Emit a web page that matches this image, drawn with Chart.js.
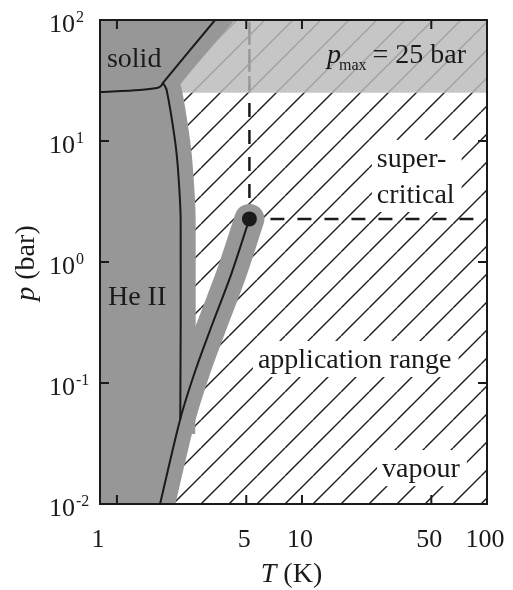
<!DOCTYPE html>
<html>
<head>
<meta charset="utf-8">
<script src="https://cdn.jsdelivr.net/npm/chart.js@4.4.1/dist/chart.umd.min.js"></script>
<style>
  html, body { margin: 0; padding: 0; background: #fff; }
</style>
</head>
<body>
<canvas id="phase" width="513" height="590"></canvas>
<script>
(function() {
    'use strict';

    // Axis ranges (T in K, p in bar)
    var xMin = 0.81, xMax = 100, yMin = 0.01, yMax = 100;

    // Tick values
    var xTicks = [1, 5, 10, 50, 100];
    var yTicks = [0.01, 0.1, 1, 10, 100];

    // Melting curve (solid | liquid)
    var meltT = [0.81, 1.33, 1.645, 1.73, 1.773, 3.39];
    var meltP = [25.4, 26.4, 27.4, 28.5, 30.2, 100];

    // Lambda line (He I | He II), from the upper corner down to the vapour line
    var lambdaT = [1.773, 1.856, 2.058, 2.145, 2.21, 2.2];
    var lambdaP = [30.2, 26.4, 10.2, 5.44, 2.22, 0.0505];

    // Vapour pressure line, up to the critical point
    var vapT = [1.71, 2.2, 2.66, 3.26, 4.13, 5.2];
    var vapP = [0.01, 0.0505, 0.128, 0.30, 0.78, 2.27];

    // Critical point and pressure limit
    var critT = 5.2, critP = 2.27;
    var pMax = 25;

    // Region labels, anchored at (T, p) = left end of first baseline
    var textLabels = [
        { lines: ['solid'], T: 0.883, p: 40.9, box: false },
        { lines: ['He II'], T: 0.894, p: 0.441, box: false },
        { lines: ['super-', 'critical'], T: 25.4, p: 6.1, box: true },
        { lines: ['application range'], T: 5.78, p: 0.133, box: true },
        { lines: ['vapour'], T: 27.1, p: 0.0167, box: true }
    ];
    var pmaxLabel = { T: 13.65, p: 44.1 };

    var SERIF = '"Liberation Serif", "Times New Roman", serif';
    var INK = '#1a1a1a';
    var GREY = '#979797';
    var BAND = 30;
    var HATCH_STEP = 28, HATCH_PHASE = 5;

    function xy(ts, ps) {
        return ts.map(function(t, i) { return { x: t, y: ps[i] }; });
    }

    function rect(x0, x1, y0, y1) {
        return [{ x: x0, y: y0 }, { x: x1, y: y0 }, { x: x1, y: y1 }, { x: x0, y: y1 }, { x: x0, y: y0 }];
    }

    /**
     * Diagonal hatch pattern
     */
    function hatchPattern(step, phase, bg, fg, width) {
        var c = document.createElement('canvas');
        c.width = step;
        c.height = step;
        var g = c.getContext('2d');
        g.fillStyle = bg;
        g.fillRect(0, 0, step, step);
        g.strokeStyle = fg;
        g.lineWidth = width;
        g.beginPath();
        for (var k = -1; k <= 1; k++) {
            g.moveTo(k * step, step);
            g.lineTo(k * step + step, 0);
        }
        g.stroke();
        var pat = g.createPattern(c, 'repeat');
        if (pat.setTransform) {
            pat.setTransform(new DOMMatrix([1, 0, 0, 1, phase, 0]));
        }
        return pat;
    }

    var lastMelt = { x: meltT[meltT.length - 1], y: meltP[meltP.length - 1] };
    var vapPts = xy(vapT, vapP);

    var heShape = [{ x: xMin, y: yMax }, lastMelt]
        .concat(xy(lambdaT, lambdaP))
        .concat([vapPts[0], { x: xMin, y: yMin }, { x: xMin, y: yMax }]);

    var base = { showLine: true, pointRadius: 0, clip: 0, tension: 0 };

    function ds(extra) {
        return Object.assign({}, base, extra);
    }

    // dashed guide: greyed where it runs through the p > pMax band
    var dashSegment = {
        borderColor: function(c) {
            return c.p0.parsed.y >= pMax ? '#999999' : INK;
        }
    };

    var datasets = [
        ds({ data: rect(xMin, xMax, yMin, yMax), fill: 'shape', borderWidth: 0,
             backgroundColor: hatchPattern(HATCH_STEP, HATCH_PHASE, '#ffffff', INK, 1.4), order: 10 }),
        ds({ data: rect(xMin, xMax, pMax, yMax), fill: 'shape', borderWidth: 0,
             backgroundColor: '#c6c6c6', order: 9 }),
        ds({ data: [{ x: critT, y: critP }, { x: critT, y: pMax }, { x: critT, y: yMax }], borderColor: INK,
             borderWidth: 2.5, borderDash: [14, 13], borderDashOffset: 6, fill: false,
             segment: dashSegment, order: 8 }),
        ds({ data: [{ x: critT, y: critP }, { x: xMax, y: critP }], borderColor: INK, borderWidth: 2.5,
             borderDash: [14, 13], borderDashOffset: 6, fill: false, order: 8 }),
        ds({ data: heShape, fill: 'shape', borderWidth: 0, backgroundColor: GREY, order: 7 }),
        ds({ data: [lastMelt].concat(xy(lambdaT, lambdaP)), fill: false, borderColor: GREY, borderWidth: BAND,
             borderCapStyle: 'square', borderJoinStyle: 'round', tension: 0.3, order: 6 }),
        ds({ data: vapPts, fill: false, borderColor: GREY, borderWidth: BAND,
             borderCapStyle: 'round', borderJoinStyle: 'round', tension: 0.3, order: 6 }),
        ds({ data: xy(meltT, meltP), fill: false, borderColor: INK, borderWidth: 2,
             borderJoinStyle: 'round', tension: 0.3, order: 5 }),
        ds({ data: xy(lambdaT, lambdaP), fill: false, borderColor: INK, borderWidth: 2,
             borderJoinStyle: 'round', tension: 0.3, order: 5 }),
        ds({ data: vapPts, fill: false, borderColor: INK, borderWidth: 2,
             borderJoinStyle: 'round', tension: 0.3, order: 5 }),
        { data: [{ x: critT, y: critP }], showLine: false, pointRadius: 7.5, pointBorderWidth: 0,
          pointBackgroundColor: INK, clip: false, order: 4 }
    ];

    /**
     * Faint hatching through the p > pMax band, right of the melting band
     */
    function drawBandHatch(chart) {
        var ctx = chart.ctx, xs = chart.scales.x, ys = chart.scales.y;
        var x1 = xs.getPixelForValue(xMax);
        var yT = ys.getPixelForValue(yMax), yB = ys.getPixelForValue(pMax);

        // right edge of the grey melting band
        var p1 = { x: xs.getPixelForValue(lastMelt.x), y: ys.getPixelForValue(lastMelt.y) };
        var p2 = { x: xs.getPixelForValue(lambdaT[0]), y: ys.getPixelForValue(lambdaP[0]) };
        var dx = p1.x - p2.x, dy = p1.y - p2.y, len = Math.hypot(dx, dy);
        var ex = p2.x + (-dy / len) * BAND / 2, ey = p2.y + (dx / len) * BAND / 2;
        function edgeX(yy) { return ex + (yy - ey) * dx / dy; }

        ctx.save();
        ctx.beginPath();
        ctx.moveTo(edgeX(yT), yT);
        ctx.lineTo(x1, yT);
        ctx.lineTo(x1, yB);
        ctx.lineTo(edgeX(yB), yB);
        ctx.closePath();
        ctx.clip();

        // dashed guide seen through the band
        var cx = xs.getPixelForValue(critT);
        ctx.strokeStyle = '#9a9a9a';
        ctx.lineWidth = 2.5;
        ctx.setLineDash([14, 13]);
        ctx.lineDashOffset = 6;
        ctx.beginPath();
        ctx.moveTo(cx, ys.getPixelForValue(critP));
        ctx.lineTo(cx, yT);
        ctx.stroke();
        ctx.setLineDash([]);

        ctx.strokeStyle = '#a2a2a2';
        ctx.lineWidth = 1.4;
        ctx.beginPath();
        var c = Math.floor((edgeX(yT) + yT - HATCH_PHASE) / HATCH_STEP) * HATCH_STEP + HATCH_PHASE - HATCH_STEP;
        for (; c <= x1 + yB + HATCH_STEP; c += HATCH_STEP) {
            ctx.moveTo(c - yB, yB);
            ctx.lineTo(c - yT, yT);
        }
        ctx.stroke();
        ctx.restore();
    }

    /**
     * Labels, frame, inward ticks and axis titles
     */
    var decorations = {
        id: 'decorations',
        afterDatasetsDraw: function(chart) {
            drawBandHatch(chart);

            var ctx = chart.ctx, xs = chart.scales.x, ys = chart.scales.y;
            ctx.save();
            ctx.textAlign = 'left';
            ctx.textBaseline = 'alphabetic';
            ctx.font = '28px ' + SERIF;

            textLabels.forEach(function(lab) {
                var px = xs.getPixelForValue(lab.T);
                var py = ys.getPixelForValue(lab.p);
                var lh = 36;
                if (lab.box) {
                    var w = Math.max.apply(null, lab.lines.map(function(s) { return ctx.measureText(s).width; }));
                    ctx.fillStyle = '#ffffff';
                    ctx.fillRect(px - 5, py - 27, w + 12, 27 + (lab.lines.length - 1) * lh + 9);
                }
                ctx.fillStyle = INK;
                lab.lines.forEach(function(s, i) {
                    ctx.fillText(s, px, py + i * lh);
                });
            });

            // p_max = 25 bar
            var lx = xs.getPixelForValue(pmaxLabel.T);
            var ly = ys.getPixelForValue(pmaxLabel.p);
            ctx.fillStyle = INK;
            ctx.font = 'italic 28px ' + SERIF;
            ctx.fillText('p', lx, ly);
            lx += ctx.measureText('p').width - 2;
            ctx.font = '16px ' + SERIF;
            ctx.fillText('max', lx, ly + 7);
            lx += ctx.measureText('max').width + 6;
            ctx.font = '28px ' + SERIF;
            ctx.fillText('= ' + pMax + ' bar', lx, ly);
            ctx.restore();
        },
        afterDraw: function(chart) {
            var ctx = chart.ctx, a = chart.chartArea, xs = chart.scales.x, ys = chart.scales.y;
            ctx.save();
            ctx.strokeStyle = INK;
            ctx.fillStyle = INK;
            ctx.lineWidth = 2;
            ctx.strokeRect(a.left, a.top, a.right - a.left, a.bottom - a.top);

            // inward ticks
            ctx.beginPath();
            xTicks.forEach(function(v) {
                if (v <= xMin || v >= xMax) return;
                var px = xs.getPixelForValue(v);
                ctx.moveTo(px, a.bottom); ctx.lineTo(px, a.bottom - 9);
                ctx.moveTo(px, a.top); ctx.lineTo(px, a.top + 9);
            });
            yTicks.forEach(function(v) {
                if (v <= yMin || v >= yMax) return;
                var py = ys.getPixelForValue(v);
                ctx.moveTo(a.left, py); ctx.lineTo(a.left + 9, py);
                ctx.moveTo(a.right, py); ctx.lineTo(a.right - 9, py);
            });
            ctx.stroke();

            // x tick labels
            ctx.textBaseline = 'alphabetic';
            ctx.textAlign = 'center';
            ctx.font = '26px ' + SERIF;
            xTicks.forEach(function(v, i) {
                var px = i === 0 ? a.left : xs.getPixelForValue(v);
                ctx.fillText(String(v), px - 2, a.bottom + 43);
            });

            // y tick labels as 10^n
            ctx.textAlign = 'left';
            yTicks.forEach(function(v) {
                var py = ys.getPixelForValue(v);
                var e = Math.round(Math.log10(v));
                ctx.font = '26px ' + SERIF;
                ctx.fillText('10', a.left - 51, py + 12);
                var w = ctx.measureText('10').width;
                ctx.font = '16px ' + SERIF;
                ctx.fillText(String(e), a.left - 51 + w + 1, py + 2);
            });

            // x title: T (K)
            ctx.font = 'italic 28px ' + SERIF;
            var wT = ctx.measureText('T').width;
            ctx.font = '28px ' + SERIF;
            var wK = ctx.measureText(' (K)').width;
            var sx = (a.left + a.right) / 2 - (wT + wK) / 2 - 2;
            ctx.font = 'italic 28px ' + SERIF;
            ctx.fillText('T', sx, a.bottom + 78);
            ctx.font = '28px ' + SERIF;
            ctx.fillText(' (K)', sx + wT, a.bottom + 78);

            // y title: p (bar)
            ctx.translate(a.left - 66, (a.top + a.bottom) / 2 + 1);
            ctx.rotate(-Math.PI / 2);
            ctx.font = 'italic 28px ' + SERIF;
            var wp = ctx.measureText('p').width;
            ctx.font = '28px ' + SERIF;
            var wb = ctx.measureText(' (bar)').width;
            var sy = -(wp + wb) / 2;
            ctx.font = 'italic 28px ' + SERIF;
            ctx.fillText('p', sy, 0);
            ctx.font = '28px ' + SERIF;
            ctx.fillText(' (bar)', sy + wp, 0);
            ctx.restore();
        }
    };

    new Chart(document.getElementById('phase'), {
        type: 'scatter',
        data: { datasets: datasets },
        options: {
            responsive: false,
            animation: false,
            events: [],
            layout: { padding: { left: 100, top: 20, right: 26, bottom: 86 } },
            plugins: {
                legend: { display: false },
                tooltip: { enabled: false }
            },
            scales: {
                x: { type: 'logarithmic', min: xMin, max: xMax, display: false, bounds: 'data' },
                y: { type: 'logarithmic', min: yMin, max: yMax, display: false, bounds: 'data' }
            }
        },
        plugins: [decorations]
    });
})();
</script>
</body>
</html>
